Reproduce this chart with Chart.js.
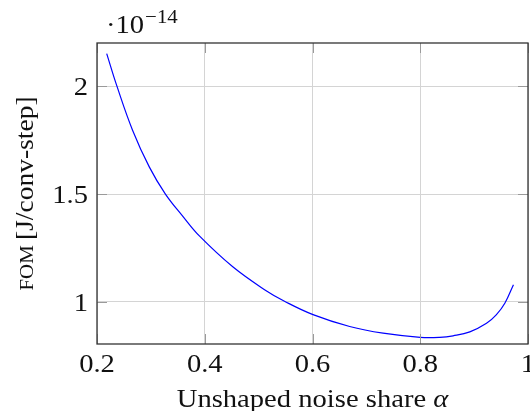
<!DOCTYPE html>
<html>
<head>
<meta charset="utf-8">
<script src="https://cdn.jsdelivr.net/npm/chart.js@4"></script>
<style>
  html, body { margin: 0; padding: 0; background: #fff; overflow: hidden; }
</style>
</head>
<body>
<canvas id="fomChart" width="530" height="411"></canvas>
<script>
// values, FOM in units of 1e-14 J/conv-step
const alpha = [0.218, 0.237, 0.266, 0.297, 0.327, 0.359, 0.390, 0.452, 0.514, 0.548, 0.601, 0.669, 0.731, 0.800, 0.836, 0.861, 0.892, 0.923, 0.941, 0.957, 0.973];
const fom   = [2.151, 2.000, 1.796, 1.626, 1.500, 1.398, 1.306, 1.163, 1.052, 1.003, 0.941, 0.886, 0.855, 0.836, 0.836, 0.843, 0.861, 0.901, 0.940, 0.994, 1.080];
const xTicks = [0.2, 0.4, 0.6, 0.8, 1];
const yTicks = [1, 1.5, 2];
const xTickLabels = ['0.2', '0.4', '0.6', '0.8', '1'];
const yTickLabels = ['1', '1.5', '2'];

const serif = '"Liberation Serif", "DejaVu Serif", serif';
const stretch = 1.1; // computer modern runs a bit wider than times

// draws left-aligned text, widened a little; returns its width
function txt(ctx, s, x, y, font) {
  ctx.font = font;
  ctx.save();
  ctx.translate(x, y);
  ctx.scale(stretch, 1);
  ctx.fillText(s, 0, 0);
  ctx.restore();
  return ctx.measureText(s).width * stretch;
}
function width(ctx, s, font) {
  ctx.font = font;
  return ctx.measureText(s).width * stretch;
}

const decorations = {
  id: 'decorations',
  afterDraw(chart) {
    const { ctx, chartArea: a, scales: { x, y } } = chart;
    ctx.save();

    // inward tick marks on all four sides
    ctx.strokeStyle = '#9a9a9a';
    ctx.lineWidth = 1;
    const tl = 10;
    ctx.beginPath();
    xTicks.forEach(v => {
      const px = Math.round(x.getPixelForValue(v)) + 0.5;
      ctx.moveTo(px, a.bottom); ctx.lineTo(px, a.bottom - tl);
      ctx.moveTo(px, a.top); ctx.lineTo(px, a.top + tl);
    });
    yTicks.forEach(v => {
      const py = Math.round(y.getPixelForValue(v)) + 0.5;
      ctx.moveTo(a.left, py); ctx.lineTo(a.left + tl, py);
      ctx.moveTo(a.right, py); ctx.lineTo(a.right - tl, py);
    });
    ctx.stroke();

    // axis box
    ctx.strokeStyle = '#333';
    ctx.lineWidth = 1.3;
    ctx.strokeRect(a.left, a.top, a.right - a.left, a.bottom - a.top);

    ctx.fillStyle = '#111';
    ctx.textAlign = 'left';
    ctx.textBaseline = 'alphabetic';
    const f = '26px ' + serif;

    // tick labels
    xTicks.forEach((v, i) => {
      const w = width(ctx, xTickLabels[i], f);
      txt(ctx, xTickLabels[i], x.getPixelForValue(v) - w / 2, 372, f);
    });
    yTicks.forEach((v, i) => {
      const w = width(ctx, yTickLabels[i], f);
      txt(ctx, yTickLabels[i], 88 - w, y.getPixelForValue(v) + 9, f);
    });

    // multiplier
    const wm = txt(ctx, '\u00b710', 106, 33, f);
    txt(ctx, '\u221214', 106 + wm + 1, 23, '19px ' + serif);

    // x title
    const t1 = 'Unshaped noise share ';
    const fi = 'italic 26px ' + serif;
    const w1 = width(ctx, t1, f);
    const w2 = width(ctx, '\u03b1', fi);
    const sx0 = (a.left + a.right) / 2 - (w1 + w2) / 2;
    txt(ctx, t1, sx0, 407, f);
    txt(ctx, '\u03b1', sx0 + w1, 407, fi);

    // y title, small caps FOM
    ctx.translate(33, (a.top + a.bottom) / 2);
    ctx.rotate(-Math.PI / 2);
    const fs = '19px ' + serif;
    const fb = '25px ' + serif;
    const ws1 = width(ctx, 'FOM ', fs);
    const ws2 = width(ctx, '[J/conv-step]', fb);
    const sx = -(ws1 + ws2) / 2;
    txt(ctx, 'FOM ', sx, 0, fs);
    txt(ctx, '[J/conv-step]', sx + ws1, 0, fb);

    ctx.restore();
  }
};

new Chart(document.getElementById('fomChart').getContext('2d'), {
  type: 'line',
  data: {
    datasets: [{
      data: alpha.map((a, i) => ({ x: a, y: fom[i] })),
      borderColor: '#0000ff',
      borderWidth: 1.2,
      pointRadius: 0,
      fill: false,
      tension: 0.4
    }]
  },
  options: {
    responsive: false,
    animation: false,
    layout: { padding: { left: 97, right: 2, top: 43, bottom: 67 } },
    plugins: { legend: { display: false }, tooltip: { enabled: false } },
    scales: {
      x: {
        type: 'linear',
        min: 0.2,
        max: 1,
        afterBuildTicks: s => { s.ticks = xTicks.map(v => ({ value: v })); },
        afterFit: s => { s.height = 0; },
        ticks: { display: false },
        grid: { color: '#d4d4d4', lineWidth: 1, drawTicks: false },
        border: { display: false }
      },
      y: {
        type: 'linear',
        min: 0.805,
        max: 2.2,
        afterBuildTicks: s => { s.ticks = yTicks.map(v => ({ value: v })); },
        afterFit: s => { s.width = 0; },
        ticks: { display: false },
        grid: { color: '#d4d4d4', lineWidth: 1, drawTicks: false },
        border: { display: false }
      }
    }
  },
  plugins: [decorations]
});
</script>
</body>
</html>
